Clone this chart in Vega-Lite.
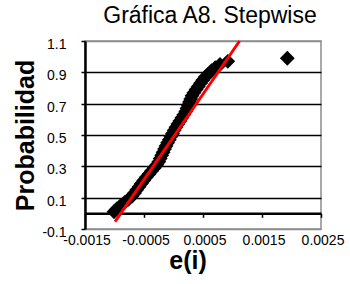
{
  "$schema": "https://vega.github.io/schema/vega-lite/v6.json",
  "width": 236,
  "height": 188,
  "autosize": {"type": "none"},
  "padding": {"left": 85, "top": 41, "right": 29, "bottom": 55},
  "background": "white",
  "title": {"text": "Gráfica A8. Stepwise", "fontSize": 23, "font": "Liberation Sans", "fontWeight": "normal", "baseline": "alphabetic", "offset": -11, "dx": 7, "anchor": "middle", "color": "black"},
  "config": {"view": {"stroke": "#8c8c8c", "strokeWidth": 1.5}, "font": "Liberation Sans"},
  "layer": [
    {
      "data": {"values": [
        {"e": -0.001008, "p": 0.01}, {"e": -0.000959, "p": 0.03}, {"e": -0.000893, "p": 0.05}, {"e": -0.000827, "p": 0.07}, {"e": -0.000761, "p": 0.09},
        {"e": -0.000700, "p": 0.11}, {"e": -0.000661, "p": 0.13}, {"e": -0.000622, "p": 0.15}, {"e": -0.000583, "p": 0.17}, {"e": -0.000544, "p": 0.19},
        {"e": -0.000505, "p": 0.21}, {"e": -0.000463, "p": 0.23}, {"e": -0.000417, "p": 0.25}, {"e": -0.000373, "p": 0.27}, {"e": -0.000327, "p": 0.29},
        {"e": -0.000283, "p": 0.31}, {"e": -0.000249, "p": 0.33}, {"e": -0.000225, "p": 0.35}, {"e": -0.000200, "p": 0.37}, {"e": -0.000176, "p": 0.39},
        {"e": -0.000151, "p": 0.41}, {"e": -0.000127, "p": 0.43}, {"e": -0.000100, "p": 0.45}, {"e": -0.000071, "p": 0.47}, {"e": -0.000044, "p": 0.49},
        {"e": -0.000017, "p": 0.51}, {"e": 0.000012, "p": 0.53}, {"e": 0.000042, "p": 0.55}, {"e": 0.000075, "p": 0.57}, {"e": 0.000108, "p": 0.59},
        {"e": 0.000142, "p": 0.61}, {"e": 0.000175, "p": 0.63}, {"e": 0.000208, "p": 0.65}, {"e": 0.000229, "p": 0.67}, {"e": 0.000249, "p": 0.69},
        {"e": 0.000271, "p": 0.71}, {"e": 0.000292, "p": 0.73}, {"e": 0.000314, "p": 0.75}, {"e": 0.000346, "p": 0.77}, {"e": 0.000383, "p": 0.79},
        {"e": 0.000420, "p": 0.81}, {"e": 0.000458, "p": 0.83}, {"e": 0.000495, "p": 0.85}, {"e": 0.000537, "p": 0.87}, {"e": 0.000592, "p": 0.89},
        {"e": 0.000644, "p": 0.91}, {"e": 0.000708, "p": 0.93}, {"e": 0.000788, "p": 0.95}, {"e": 0.000920, "p": 0.97}, {"e": 0.001929, "p": 0.99}
      ]},
      "mark": {"type": "point", "shape": "diamond", "filled": true, "color": "black", "size": 220, "opacity": 1},
      "encoding": {
        "x": {
          "field": "e", "type": "quantitative",
          "scale": {"domain": [-0.0015, 0.0025], "nice": false, "zero": false},
          "axis": {
            "title": "e(i)",
            "values": [-0.0015, -0.0005, 0.0005, 0.0015, 0.0025],
            "tickCount": 10,
            "labelExpr": "(datum.value < 0 ? '-' : '') + format(abs(datum.value), '.4f')",
            "offset": -15.7,
            "grid": false,
            "domainColor": "black", "domainWidth": 2.5,
            "tickColor": "black", "tickSize": 4, "tickWidth": 1.5,
            "labelPadding": 16.5, "labelOffset": 1.5, "labelFontSize": 14, "labelColor": "black", "labelFont": "Liberation Sans",
            "labelFlush": false, "labelOverlap": false, "labelBound": false,
            "titleFontSize": 25, "titleFontWeight": "bold", "titleColor": "black", "titleFont": "Liberation Sans",
            "titleX": 102.5, "titleY": 55, "titleBaseline": "alphabetic", "titleAlign": "center"
          }
        },
        "y": {
          "field": "p", "type": "quantitative",
          "scale": {"domain": [-0.1, 1.1], "nice": false, "zero": false},
          "axis": {
            "title": "Probabilidad",
            "values": [-0.1, 0.1, 0.3, 0.5, 0.7, 0.9, 1.1],
            "tickCount": 10,
            "labelExpr": "(datum.value < 0 ? '-' : '') + format(abs(datum.value), '.1f')",
            "grid": true,
            "gridColor": {"condition": {"test": "datum.value > 1 || datum.value < 0", "value": "#8c8c8c"}, "value": "black"},
            "gridWidth": 1.5,
            "domainColor": "black", "domainWidth": 2.5,
            "tickColor": "black", "tickSize": 4, "tickWidth": 1.5,
            "labelPadding": 15, "labelOffset": 3.5, "labelFontSize": 14, "labelColor": "black", "labelFont": "Liberation Sans",
            "labelFlush": false, "labelOverlap": false, "labelBound": false,
            "titleFontSize": 25, "titleFontWeight": "bold", "titleColor": "black", "titleFont": "Liberation Sans",
            "titleX": -52, "titleY": 94, "titleBaseline": "alphabetic", "titleAlign": "center", "titleAngle": 270
          }
        }
      }
    },
    {
      "data": {"values": [{"e": -0.00099, "p": -0.053}, {"e": 0.00112, "p": 1.1}]},
      "mark": {"type": "line", "color": "red", "strokeWidth": 3},
      "encoding": {
        "x": {"field": "e", "type": "quantitative"},
        "y": {"field": "p", "type": "quantitative"}
      }
    }
  ]
}
